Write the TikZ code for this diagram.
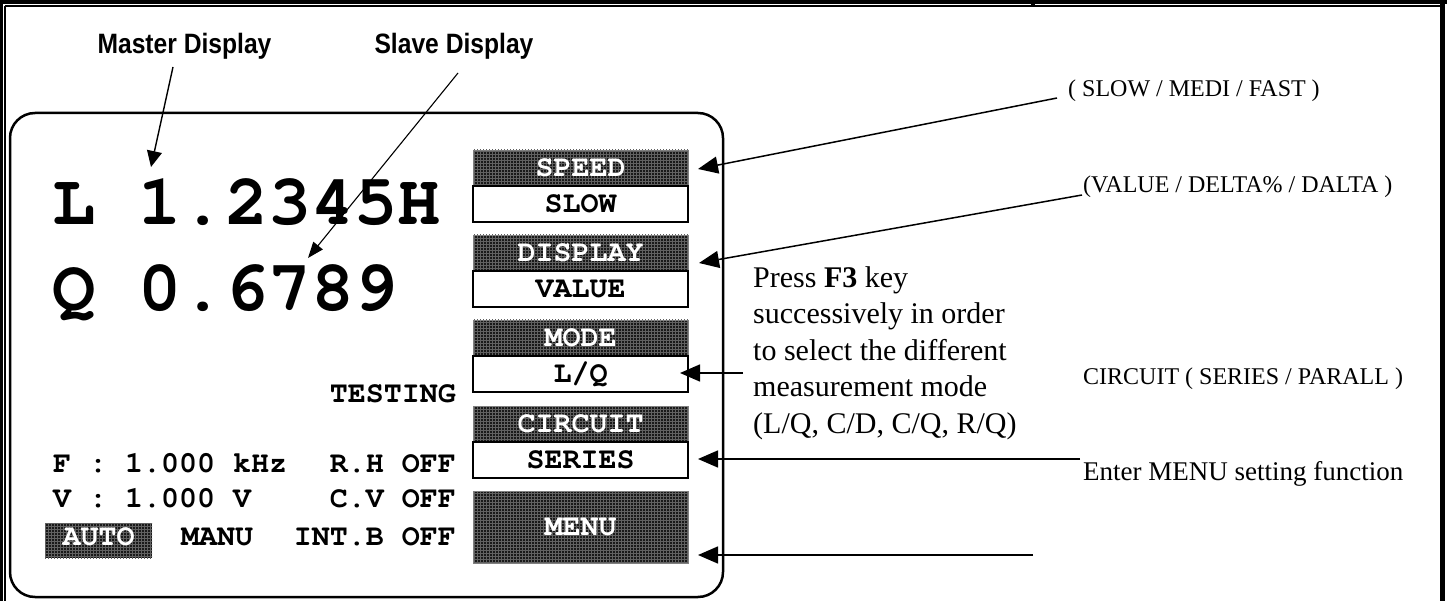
\documentclass[tikz,border=0pt]{standalone}
\usepackage[T1]{fontenc}
\usepackage{fontspec}
\setmainfont{Liberation Serif}
\newfontfamily\tagfont{Liberation Sans}[FakeStretch=0.88]
\newcommand{\lcdfont}{\fontencoding{T1}\fontfamily{pcr}\selectfont}
\usetikzlibrary{arrows.meta,patterns}

\begin{document}
\begin{tikzpicture}[x=1pt, y=-1pt,
  lcd/.style={font=\lcdfont\bfseries\fontsize{30}{32}\selectfont, inner sep=0pt, text height=17pt, text depth=0pt},
  big/.style={font=\lcdfont\bfseries\fontsize{72}{80}\selectfont, inner sep=0pt, anchor=base west},
  dither/.style={preaction={fill=black!90}, pattern=grid, pattern color=black!62},
  hdr/.style={lcd, dither, draw=black!50, line width=0.8pt, minimum width=215pt, minimum height=36pt, text=white},
  val/.style={lcd, fill=white, draw=black, line width=1.6pt, minimum width=215pt, minimum height=36pt},
  tag/.style={font=\tagfont\bfseries\fontsize{28}{30}\selectfont, inner sep=0pt, anchor=base},
  note/.style={font=\fontsize{24}{28}\selectfont, inner sep=0pt, anchor=base west},
  callout/.style={-{Triangle[length=20pt,width=17pt]}, line width=1.5pt},
]
\useasboundingbox (0,0) rectangle (1447,601);

% outer frame (double rule on top and left, heavy rule on the right)
\draw[line width=3.2pt] (0,2) -- (1447,2);
\draw[line width=1.2pt] (4.5,6) -- (1440,6);
\fill (1031,4.5) rectangle (1035,7.2);
\draw[line width=3pt] (1.5,0) -- (1.5,601);
\draw[line width=1.2pt] (5,6) -- (5,601);
\draw[line width=5pt] (1442.5,4) -- (1442.5,601);

% LCD panel
\draw[line width=2.5pt, rounded corners=25pt] (10,113) rectangle (723,597);

% soft keys
\node[hdr] (speedh) at (580.5,168) {SPEED};
\node[val] (speedv) at (580.5,204) {SLOW};
\node[hdr] (disph) at (580.5,253) {DISPLAY};
\node[val] (dispv) at (580.5,289) {VALUE};
\node[hdr] (modeh) at (580.5,338) {MODE};
\node[val] (modev) at (580.5,374) {L/Q};
\node[hdr] (circh) at (580.5,424) {CIRCUIT};
\node[val] (circv) at (580.5,460) {SERIES};
\node[hdr, minimum height=72pt] (menu) at (580.5,527) {MENU};

% readings
\node[big] (primary) at (52,225) {L 1.2345H};
\node[big] (secondary) at (52,310) {Q 0.6789};
\node[lcd, anchor=base east] (testing) at (456,402) {TESTING};
\node[lcd, anchor=base west] (freq) at (53,472) {F : 1.000 kHz};
\node[lcd, anchor=base east] (rh) at (456,472) {R.H OFF};
\node[lcd, anchor=base west] (volt) at (53,507) {V : 1.000 V};
\node[lcd, anchor=base east] (cv) at (456,507) {C.V OFF};
\node[dither, minimum width=107pt, minimum height=35pt, inner sep=0pt] (autobox) at (98.5,540.5) {};
\node[lcd, anchor=base, text=white] (auto) at (98.5,545) {AUTO};
\node[lcd, anchor=base west] (manu) at (181,545) {MANU};
\node[lcd, anchor=base east] (intb) at (456,545) {INT.B OFF};

% display labels
\node[tag] (mastertag) at (184.5,54) {Master Display};
\node[tag] (slavetag) at (454,54) {Slave Display};
\coordinate (mfrom) at (173,67);
\coordinate (mtip) at (151,167);
\coordinate (sfrom) at (458,73);
\coordinate (stip) at (308,258);
\draw[line width=1.4pt, -{Triangle[length=16pt,width=15pt]}] (mfrom) -- (mtip);
\draw[line width=1.1pt, -{Triangle[length=16pt,width=12pt]}] (sfrom) -- (stip);

% key descriptions
\node[note] (speednote) at (1068,97) {( SLOW / MEDI / FAST )};
\node[note] (dispnote) at (1083,193) {(VALUE / DELTA\% / DALTA )};
\node[note] (circnote) at (1083,384) {CIRCUIT ( SERIES / PARALL )};
\node[note, font=\fontsize{27}{30}\selectfont] (menunote) at (1083,480) {Enter MENU setting function};
\node[anchor=north west, align=left, inner sep=0pt, font=\fontsize{30}{36.5}\selectfont] (f3note) at (753,266)
  {Press \textbf{F3} key\\successively in order\\to select the different\\measurement mode\\(L/Q, C/D, C/Q, R/Q)};

\coordinate (speedfrom) at (1057,98);
\coordinate (speedtip) at (698,169);
\coordinate (dispfrom) at (1082,195);
\coordinate (disptip) at (699,263);
\coordinate (modefrom) at (743,373);
\coordinate (modetip) at (680,373);
\coordinate (circfrom) at (1080,459);
\coordinate (circtip) at (698,459);
\coordinate (menufrom) at (1033,555);
\coordinate (menutip) at (698,555);
\draw[callout] (speedfrom) -- (speedtip);
\draw[callout] (dispfrom) -- (disptip);
\draw[callout] (modefrom) -- (modetip);
\draw[callout] (circfrom) -- (circtip);
\draw[callout] (menufrom) -- (menutip);
\end{tikzpicture}
\end{document}
